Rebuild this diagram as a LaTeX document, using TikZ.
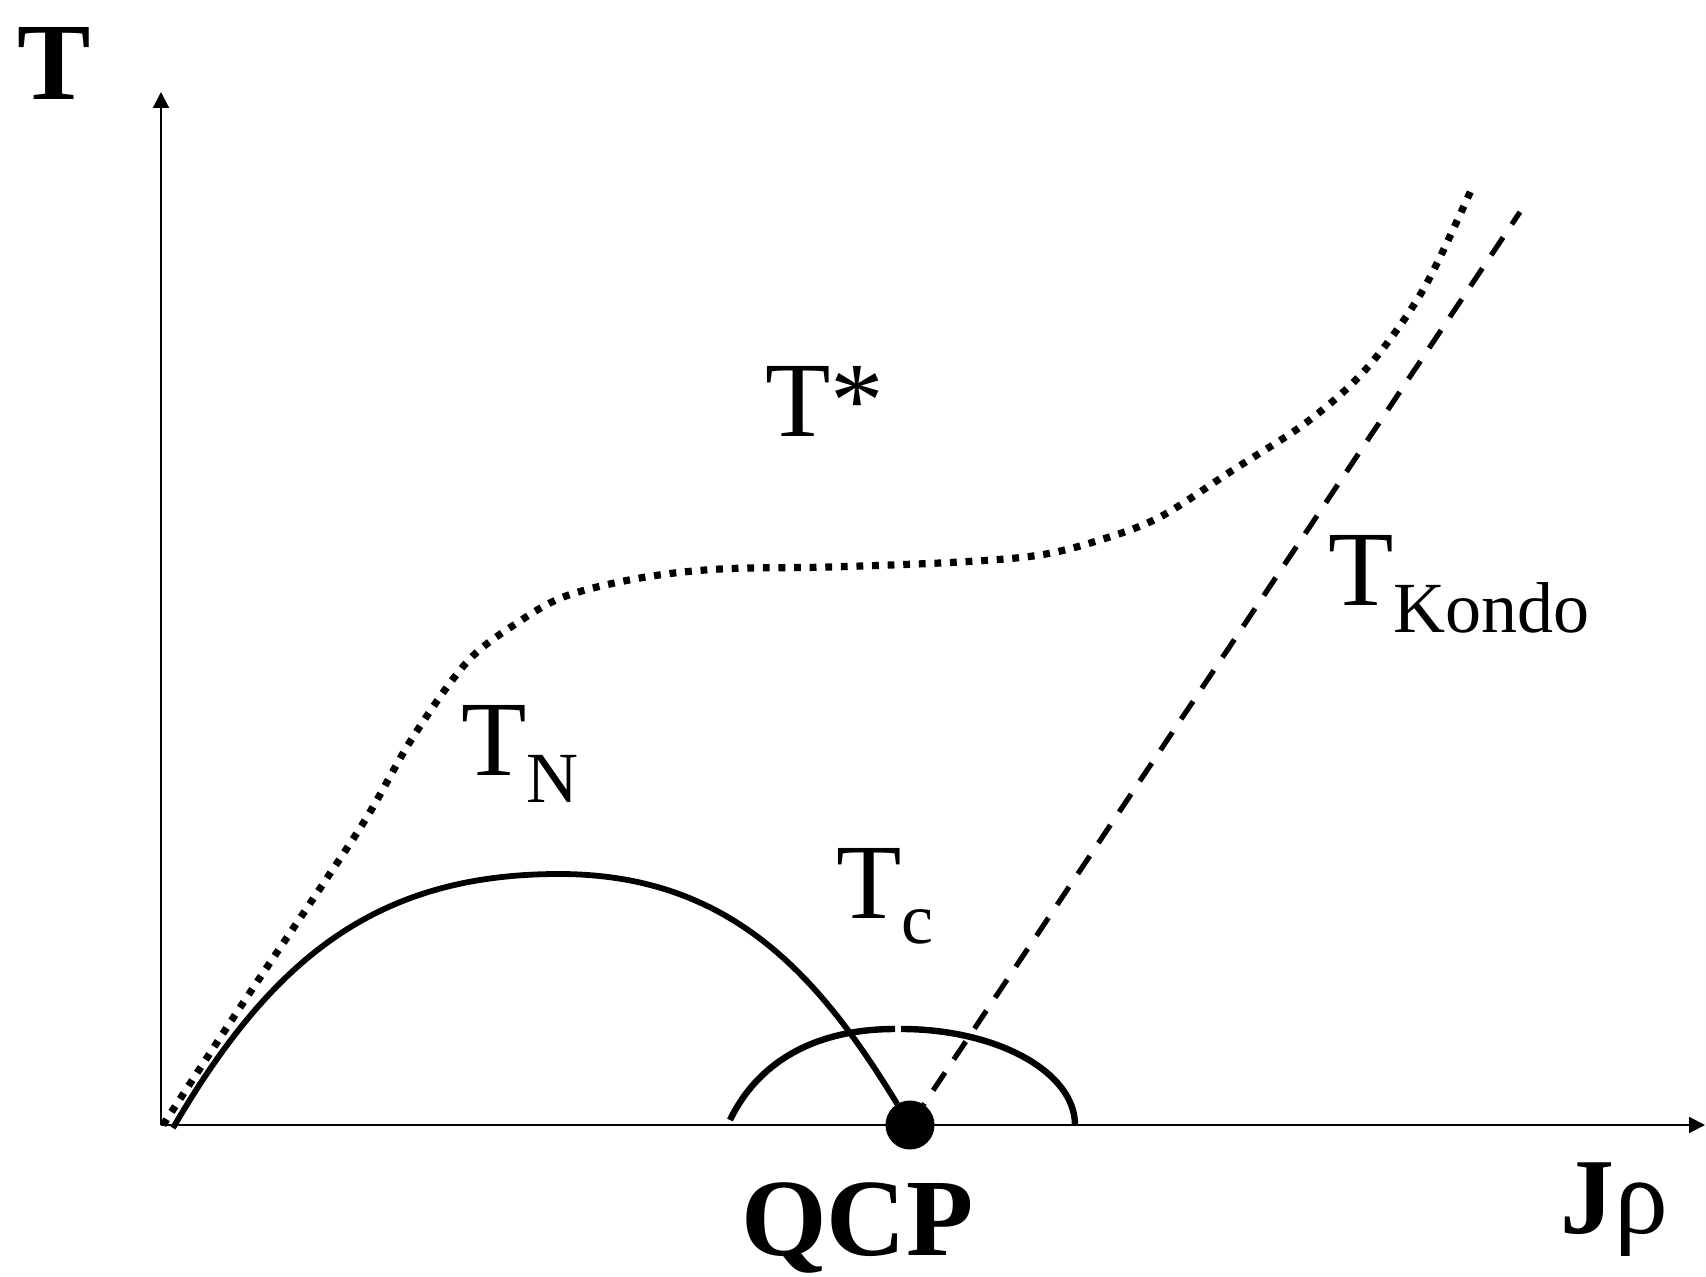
\documentclass[tikz,border=0pt]{standalone}
\usepackage{fontspec}
\setmainfont{Liberation Serif}
\usetikzlibrary{arrows.meta}
\begin{document}
\begin{tikzpicture}[x=0.5pt,y=-0.5pt,
  axis/.style={line width=1pt,-{Triangle[length=8pt,width=8pt]}},
  solidarc/.style={line width=2.9pt},
  smallarc/.style={line width=3.2pt},
  dotcurve/.style={line width=3.6pt, dash pattern=on 3.4pt off 4.4pt},
  kondo/.style={line width=2.6pt, dash pattern=on 10.75pt off 7.85pt, dash phase=3.35pt},
  lbl/.style={inner sep=0pt, outer sep=0pt, anchor=base west, font=\fontsize{53.5}{55}\selectfont},
  blbl/.style={inner sep=0pt, outer sep=0pt, anchor=base west, font=\fontsize{55}{57}\selectfont\bfseries},
]
\useasboundingbox (0,0) rectangle (1706,1277);
% axes
\coordinate (O) at (161,1125);
\coordinate (ytop) at (161,92);
\coordinate (xend) at (1705,1125);
\draw[axis] (O) -- (ytop);
\draw[axis] (O) -- (xend);
% QCP dot
\node[circle, fill=black, inner sep=0pt, outer sep=0pt, minimum size=24.5pt] (qcp) at (910,1125) {};
% dotted T* curve
\draw[dotcurve] plot[smooth, tension=0.55] coordinates {
 (163,1125) (243,1003) (317,893) (367,817) (413,737) (467,662) (517,623)
 (566,596) (640,578) (720,569) (830,567) (960,562) (1040,555) (1100,540)
 (1160,517) (1233,470) (1307,422) (1367,368) (1423,290) (1472,188)};
% big T_N arc
\coordinate (bstart) at (173,1128);
\coordinate (bpeak) at (559,874);
\draw[solidarc] (bstart) .. controls (273,956) and (379,874) .. (bpeak)
  .. controls (729,874) and (818,974) .. (qcp);
% small T_c dome (two pieces)
\coordinate (sl) at (730,1120);
\coordinate (stl) at (895,1029);
\coordinate (str) at (901,1029);
\coordinate (sr) at (1075,1125);
\draw[smallarc] (sl) .. controls (760,1058) and (820,1029) .. (stl);
\draw[smallarc] (str) .. controls (997,1029) and (1075,1072) .. (sr);
% Kondo dashed line
\coordinate (ktop) at (1520,212);
\draw[kondo] (ktop) -- (qcp);
% labels
\node[blbl] (Tlab) at (18,100) {T};
\node[blbl] (qcplab) at (741,1255) {QCP};
\node[blbl, font=\fontsize{54}{56}\selectfont] (jrho) at (1560,1233) {{\bfseries J}ρ};
\node[lbl] (tstar) at (765,437) {T*};
\node[lbl] (tn) at (461,775) {T\raisebox{-13.5pt}{\fontsize{36}{36}\selectfont N}};
\node[lbl] (tc) at (836,918) {T\raisebox{-12.5pt}{\fontsize{36}{36}\selectfont c}};
\node[lbl] (tk) at (1328,605) {T\raisebox{-13.5pt}{\fontsize{36}{36}\selectfont Kondo}};
\end{tikzpicture}
\end{document}
